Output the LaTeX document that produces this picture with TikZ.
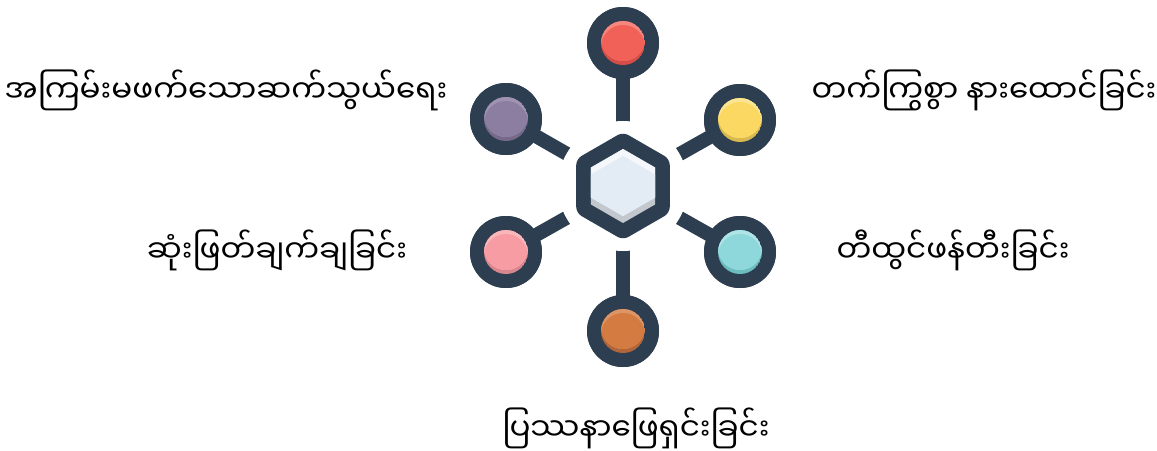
\documentclass[tikz,border=0pt]{standalone}
\usepackage{fontspec}
\usetikzlibrary{shapes.geometric,calc}
\newfontfamily\mya[Script=Myanmar]{Noto Sans Myanmar UI}
\definecolor{ink}{HTML}{2D3E50}
\definecolor{redM}{HTML}{F26157}\definecolor{redL}{HTML}{F5877E}\definecolor{redD}{HTML}{D44E47}
\definecolor{purM}{HTML}{8C7EA0}\definecolor{purL}{HTML}{A093B2}\definecolor{purD}{HTML}{76698A}
\definecolor{yelM}{HTML}{FAD862}\definecolor{yelL}{HTML}{FCE592}\definecolor{yelD}{HTML}{D9B94E}
\definecolor{pinM}{HTML}{F79CA3}\definecolor{pinL}{HTML}{F9B7BC}\definecolor{pinD}{HTML}{D9868C}
\definecolor{cyaM}{HTML}{8ED8DB}\definecolor{cyaL}{HTML}{AEE4E6}\definecolor{cyaD}{HTML}{6BBCBE}
\definecolor{oraM}{HTML}{D47B42}\definecolor{oraL}{HTML}{DC9566}\definecolor{oraD}{HTML}{B0653A}
\definecolor{hexM}{HTML}{E3ECF5}\definecolor{hexL}{HTML}{F4F7FB}\definecolor{hexD}{HTML}{C3C8CF}
\newcommand\ballfill[4]{% node, mid, light, dark
  \begin{scope}
    \clip (#1) circle[radius=22];
    \fill[#4] (#1) circle[radius=22];
    \begin{scope}
      \clip ([yshift=4pt]#1) circle[radius=22];
      \fill[#3] (#1) circle[radius=22];
      \fill[#2] ([yshift=-4pt]#1) circle[radius=22];
    \end{scope}
  \end{scope}}
\newcommand\hexpath[1]{[shift={(#1)}] (90:37)--(30:37)--(-30:37)--(-90:37)--(-150:37)--(150:37)--cycle}
\begin{document}
\begin{tikzpicture}[x=1pt,y=-1pt,
  ring/.style={circle, fill=ink, minimum size=72pt, inner sep=0pt},
  link/.style={draw=ink, line width=14pt},
  lbl/.style={font=\mya\fontsize{31}{37}\selectfont, anchor=base, inner sep=0pt}]
\useasboundingbox (0,0) rectangle (1157,450);
\coordinate (h) at (623,186);
\node[ring] (c1) at (623,43) {};
\node[ring] (c2) at (506,119) {};
\node[ring] (c3) at (740,120) {};
\node[ring] (c4) at (506,252) {};
\node[ring] (c5) at (740,252) {};
\node[ring] (c6) at (623,331) {};
% connectors
\foreach \c in {c1,c2,c3,c4,c5,c6} \draw[link] (\c.center) -- (h);
\fill[white] (h) circle[radius=65];
\node[regular polygon, regular polygon sides=6, shape border rotate=30, minimum size=108pt, inner sep=0pt, fill=ink, rounded corners=6pt] (hex) at (h) {};
% rings on top of connector ends
\foreach \c in {c1,c2,c3,c4,c5,c6} \fill[ink] (\c) circle[radius=36];
% inner hexagon
\begin{scope}
  \clip \hexpath{hex.center};
  \fill[hexD] (hex.center) circle[radius=40];
  \begin{scope}
    \clip \hexpath{$(hex.center)+(0,-7)$};
    \fill[hexL] (hex.center) circle[radius=40];
    \fill[hexM] \hexpath{$(hex.center)+(0,7)$};
  \end{scope}
\end{scope}
\ballfill{c1}{redM}{redL}{redD}
\ballfill{c2}{purM}{purL}{purD}
\ballfill{c3}{yelM}{yelL}{yelD}
\ballfill{c4}{pinM}{pinL}{pinD}
\ballfill{c5}{cyaM}{cyaL}{cyaD}
\ballfill{c6}{oraM}{oraL}{oraD}
% labels
\node[lbl] (t1) at (226,102) {အကြမ်းမဖက်သောဆက်သွယ်ရေး};
\node[lbl] (t2) at (984,102) {တက်ကြွစွာ နားထောင်ခြင်း};
\node[lbl] (t3) at (277,262) {ဆုံးဖြတ်ချက်ချခြင်း};
\node[lbl] (t4) at (953,262) {တီထွင်ဖန်တီးခြင်း};
\node[lbl] (t5) at (636,440) {ပြဿနာဖြေရှင်းခြင်း};
\end{tikzpicture}
\end{document}
